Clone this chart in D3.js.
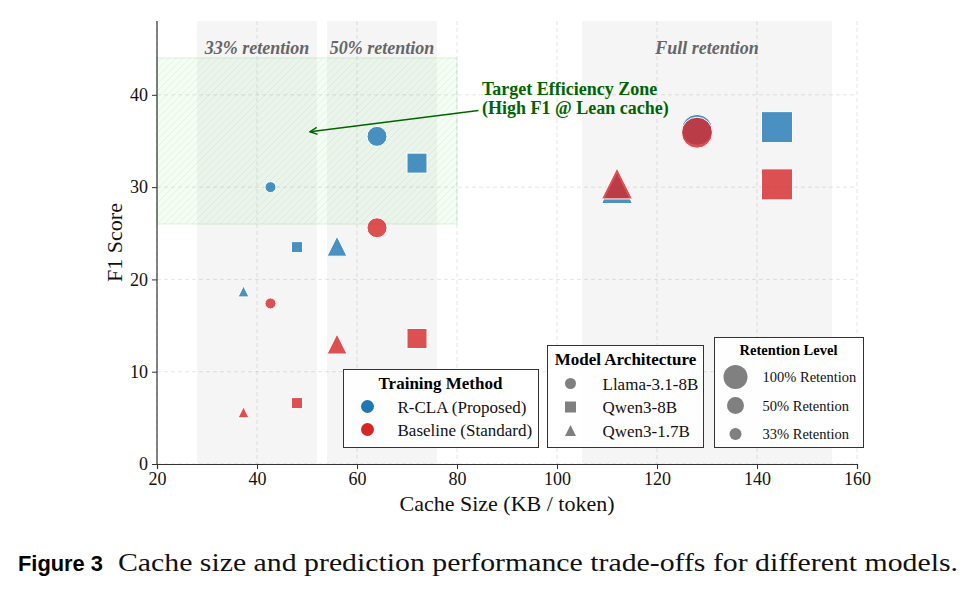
<!DOCTYPE html>
<html>
<head>
<meta charset="utf-8">
<script src="https://cdn.jsdelivr.net/npm/d3@7"></script>
<style>
  body { margin: 0; background: #fff; }
  svg { display: block; }
</style>
</head>
<body>
<div id="chart"></div>
<script>
// Data
const retentionLevels = ['33%', '50%', '100%'];
const modelNames = ['Llama-3.1-8B', 'Qwen3-8B', 'Qwen3-1.7B'];
const modelShapes = ['circle', 'square', 'triangle'];

// cache size per retention level (33%, 50%, 100%)
const cacheLlama = [42.7, 64, 128];
const cacheQwen8 = [48, 72, 144];
const cacheQwen17 = [37.3, 56, 112];

// F1 per retention level
const f1LlamaRcla = [30.0, 35.5, 36.2];
const f1LlamaBase = [17.4, 25.6, 35.9];
const f1Qwen8Rcla = [23.5, 32.6, 36.5];
const f1Qwen8Base = [6.6, 13.6, 30.3];
const f1Qwen17Rcla = [18.7, 23.6, 29.9];
const f1Qwen17Base = [5.6, 13.0, 30.4];

// shaded retention bands
const bandLabels = ['33% retention', '50% retention', 'Full retention'];
const bandStart = [28, 54, 105];
const bandEnd = [52, 76, 155];
const bandLabelX = [40, 65, 130];

// target zone
const zoneX = [20, 80];
const zoneY = [26, 44];
const arrowFrom = [84.3, 38.3];
const arrowTo = [50.6, 36.0];

const xTicks = [20, 40, 60, 80, 100, 120, 140, 160];
const yTicks = [0, 10, 20, 30, 40];

const methods = ['R-CLA (Proposed)', 'Baseline (Standard)'];
const methodColors = ['#1f77b4', '#d62728'];

// Layout
const W = 976, H = 594;
const margin = { top: 21, left: 157, right: 119, bottom: 130 };
const width = W - margin.left - margin.right;
const height = H - margin.top - margin.bottom;

const serif = '"Liberation Serif", "Times New Roman", serif';

const svgRoot = d3.select('#chart').append('svg')
    .attr('width', W)
    .attr('height', H);

const defs = svgRoot.append('defs');
const hatch = defs.append('pattern')
    .attr('id', 'hatch')
    .attr('patternUnits', 'userSpaceOnUse')
    .attr('width', 7)
    .attr('height', 7);
hatch.append('path')
    .attr('d', 'M-1,1 l2,-2 M0,7 l7,-7 M6,8 l2,-2')
    .attr('stroke', 'rgba(110,180,110,0.16)')
    .attr('stroke-width', 0.8);

defs.append('marker')
    .attr('id', 'arrowhead')
    .attr('viewBox', '0 0 10 10')
    .attr('refX', 9)
    .attr('refY', 5)
    .attr('markerWidth', 9)
    .attr('markerHeight', 9)
    .attr('markerUnits', 'userSpaceOnUse')
    .attr('orient', 'auto')
    .append('path')
    .attr('d', 'M1,1 L9,5 L1,9')
    .attr('fill', 'none')
    .attr('stroke', '#006400')
    .attr('stroke-width', 1.6);

const svg = svgRoot.append('g')
    .attr('transform', `translate(${margin.left},${margin.top})`);

const x = d3.scaleLinear().domain([20, 160]).range([0, width]);
const y = d3.scaleLinear().domain([0, 48]).range([height, 0]);

// Retention bands
bandLabels.forEach((label, i) => {
    svg.append('rect')
        .attr('x', x(bandStart[i]))
        .attr('y', 0)
        .attr('width', x(bandEnd[i]) - x(bandStart[i]))
        .attr('height', height)
        .attr('fill', '#808080')
        .attr('fill-opacity', 0.08);
});

// Grid lines
svg.append('g')
    .selectAll('line')
    .data(xTicks)
    .enter()
    .append('line')
    .attr('x1', d => x(d))
    .attr('x2', d => x(d))
    .attr('y1', 0)
    .attr('y2', height)
    .attr('stroke', 'rgba(0,0,0,0.1)')
    .attr('stroke-dasharray', '4,3');

svg.append('g')
    .selectAll('line')
    .data(yTicks)
    .enter()
    .append('line')
    .attr('x1', 0)
    .attr('x2', width)
    .attr('y1', d => y(d))
    .attr('y2', d => y(d))
    .attr('stroke', 'rgba(0,0,0,0.1)')
    .attr('stroke-dasharray', '4,3');

// Target efficiency zone
svg.append('rect')
    .attr('x', x(zoneX[0]))
    .attr('y', y(zoneY[1]))
    .attr('width', x(zoneX[1]) - x(zoneX[0]))
    .attr('height', y(zoneY[0]) - y(zoneY[1]))
    .attr('fill', 'rgba(144,238,144,0.1)')
    .attr('stroke', 'rgba(120,200,120,0.25)')
    .attr('stroke-width', 1);
svg.append('rect')
    .attr('x', x(zoneX[0]))
    .attr('y', y(zoneY[1]))
    .attr('width', x(zoneX[1]) - x(zoneX[0]))
    .attr('height', y(zoneY[0]) - y(zoneY[1]))
    .attr('fill', 'url(#hatch)');

// Band labels
bandLabels.forEach((label, i) => {
    svg.append('text')
        .attr('x', x(bandLabelX[i]))
        .attr('y', 33)
        .attr('text-anchor', 'middle')
        .style('font-family', serif)
        .style('font-size', '18px')
        .style('font-weight', 'bold')
        .style('font-style', 'italic')
        .style('fill', '#666')
        .text(label);
});

// Marker helpers
const triangleType = {
    draw(ctx, size) {
        const h = Math.sqrt(size) / 2;
        ctx.moveTo(0, -h);
        ctx.lineTo(h, h);
        ctx.lineTo(-h, h);
        ctx.closePath();
    }
};
function markerPath(shape, d) {
    if (shape === 'circle') return d3.symbol(d3.symbolCircle, Math.PI * d * d / 4)();
    if (shape === 'square') return d3.symbol(d3.symbolSquare, d * d)();
    return d3.symbol(triangleType, d * d)();
}
const retentionSize = d3.scaleOrdinal().domain(retentionLevels).range([11, 20, 31]);

// Points: draw R-CLA first, baseline on top
const cacheByModel = [cacheLlama, cacheQwen8, cacheQwen17];
const f1ByMethod = [
    [f1LlamaRcla, f1Qwen8Rcla, f1Qwen17Rcla],
    [f1LlamaBase, f1Qwen8Base, f1Qwen17Base]
];

methods.forEach((method, m) => {
    modelNames.forEach((model, k) => {
        retentionLevels.forEach((ret, r) => {
            svg.append('path')
                .attr('d', markerPath(modelShapes[k], retentionSize(ret)))
                .attr('transform', `translate(${x(cacheByModel[k][r])},${y(f1ByMethod[m][k][r])})`)
                .attr('fill', methodColors[m])
                .attr('fill-opacity', 0.8)
                .attr('stroke', 'white')
                .attr('stroke-width', 1);
        });
    });
});

// Annotation
svg.append('line')
    .attr('x1', x(arrowFrom[0]))
    .attr('y1', y(arrowFrom[1]))
    .attr('x2', x(arrowTo[0]))
    .attr('y2', y(arrowTo[1]))
    .attr('stroke', '#006400')
    .attr('stroke-width', 1.6)
    .attr('marker-end', 'url(#arrowhead)');

const annot = svg.append('text')
    .attr('x', x(85))
    .style('font-family', serif)
    .style('font-size', '18px')
    .style('font-weight', 'bold')
    .style('fill', '#006400');
annot.append('tspan').attr('x', x(85)).attr('y', 74).text('Target Efficiency Zone');
annot.append('tspan').attr('x', x(85)).attr('y', 93).text('(High F1 @ Lean cache)');

// Axes
const xAxis = svg.append('g')
    .attr('transform', `translate(0,${height})`)
    .call(d3.axisBottom(x).tickValues(xTicks).tickSizeOuter(0).tickSize(5).tickPadding(3));
const yAxis = svg.append('g')
    .call(d3.axisLeft(y).tickValues(yTicks).tickSizeOuter(0).tickSize(5).tickPadding(4));
[xAxis, yAxis].forEach(a => {
    a.select('.domain').attr('stroke', '#333').attr('stroke-width', 1.2);
    a.selectAll('.tick line').attr('stroke', '#333').attr('stroke-width', 1);
    a.selectAll('.tick text')
        .style('font-family', serif)
        .style('font-size', '18px')
        .style('fill', '#111');
});
// left spine reaches the top of the plot
yAxis.select('.domain').attr('d', `M0,0V${height}`);

svg.append('text')
    .attr('x', width / 2)
    .attr('y', height + 47)
    .attr('text-anchor', 'middle')
    .style('font-family', serif)
    .style('font-size', '22px')
    .style('fill', '#111')
    .text('Cache Size (KB / token)');

svg.append('text')
    .attr('transform', 'rotate(-90)')
    .attr('x', -(y(0) + y(48)) / 2 + 0)
    .attr('y', -35)
    .attr('text-anchor', 'middle')
    .style('font-family', serif)
    .style('font-size', '22px')
    .style('fill', '#111')
    .text('F1 Score');

// Legends (absolute page coordinates)
function legendBox(x0, y0, w, h) {
    const g = svgRoot.append('g').attr('transform', `translate(${x0},${y0})`);
    g.append('rect')
        .attr('width', w)
        .attr('height', h)
        .attr('fill', 'white')
        .attr('fill-opacity', 0.9)
        .attr('stroke', '#333')
        .attr('stroke-width', 1);
    return g;
}

// Training Method
const lg1 = legendBox(343.5, 369.5, 195, 78);
lg1.append('text')
    .attr('x', 97).attr('y', 19)
    .attr('text-anchor', 'middle')
    .style('font-family', serif).style('font-size', '17px').style('font-weight', 'bold')
    .text('Training Method');
methods.forEach((method, i) => {
    lg1.append('path')
        .attr('d', markerPath('circle', 13))
        .attr('transform', `translate(24,${37 + i * 23})`)
        .attr('fill', methodColors[i]);
    lg1.append('text')
        .attr('x', 54).attr('y', 43 + i * 23)
        .style('font-family', serif).style('font-size', '17px').style('fill', '#111')
        .text(method);
});

// Model Architecture
const lg2 = legendBox(547.5, 345.5, 156, 102);
lg2.append('text')
    .attr('x', 78).attr('y', 19)
    .attr('text-anchor', 'middle')
    .style('font-family', serif).style('font-size', '17px').style('font-weight', 'bold')
    .text('Model Architecture');
modelNames.forEach((model, i) => {
    lg2.append('path')
        .attr('d', markerPath(modelShapes[i], 11))
        .attr('transform', `translate(23,${38 + i * 23.5})`)
        .attr('fill', '#808080');
    lg2.append('text')
        .attr('x', 55).attr('y', 44 + i * 23.5)
        .style('font-family', serif).style('font-size', '17px').style('fill', '#111')
        .text(model);
});

// Retention Level
const retLegendSize = d3.scaleOrdinal().domain(retentionLevels).range([12, 17, 24]);
const retLegendText = ['100% Retention', '50% Retention', '33% Retention'];
const lg3 = legendBox(714.5, 337.5, 149, 110);
lg3.append('text')
    .attr('x', 74).attr('y', 17)
    .attr('text-anchor', 'middle')
    .style('font-family', serif).style('font-size', '14.5px').style('font-weight', 'bold')
    .text('Retention Level');
retentionLevels.slice().reverse().forEach((ret, i) => {
    lg3.append('path')
        .attr('d', markerPath('circle', retLegendSize(ret)))
        .attr('transform', `translate(21,${39.5 + i * 28.5})`)
        .attr('fill', '#808080');
    lg3.append('text')
        .attr('x', 48).attr('y', 44.5 + i * 28.5)
        .style('font-family', serif).style('font-size', '14.5px').style('fill', '#111')
        .text(retLegendText[i]);
});

// Caption
svgRoot.append('text')
    .attr('x', 18).attr('y', 571)
    .attr('textLength', 85)
    .attr('lengthAdjust', 'spacingAndGlyphs')
    .style('font-family', '"Liberation Sans", Arial, sans-serif')
    .style('font-size', '22px')
    .style('font-weight', 'bold')
    .style('fill', '#000')
    .text('Figure 3');
svgRoot.append('text')
    .attr('x', 118).attr('y', 571)
    .attr('textLength', 840)
    .attr('lengthAdjust', 'spacingAndGlyphs')
    .style('font-family', serif)
    .style('font-size', '25px')
    .style('fill', '#111')
    .text('Cache size and prediction performance trade-offs for different models.');
</script>
</body>
</html>
